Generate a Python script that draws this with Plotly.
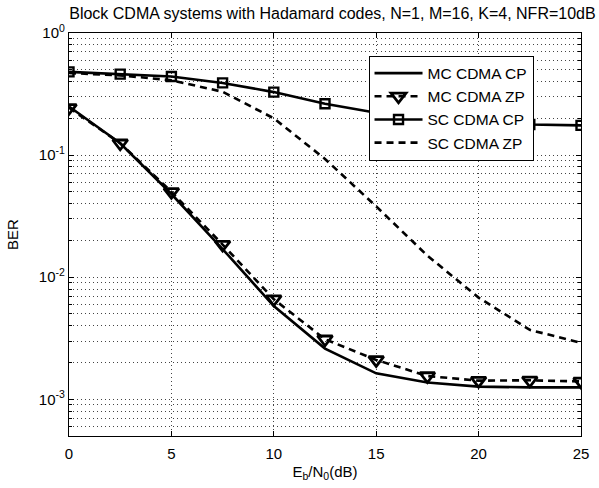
import plotly.graph_objects as go

ebn0 = [0, 2.5, 5, 7.5, 10, 12.5, 15, 17.5, 20, 22.5, 25]
mc_cp = [0.25, 0.125, 0.048, 0.017, 0.0058, 0.0026, 0.00163, 0.00137, 0.00127, 0.00125, 0.00125]
mc_zp = [0.244, 0.125, 0.05, 0.0185, 0.0066, 0.0031, 0.0021, 0.00155, 0.00142, 0.00143, 0.0014]
sc_cp = [0.48, 0.46, 0.44, 0.39, 0.328, 0.263, 0.222, 0.2, 0.186, 0.178, 0.175]
sc_zp = [0.47, 0.45, 0.41, 0.33, 0.2, 0.093, 0.038, 0.015, 0.0068, 0.0037, 0.0029]

ytick_vals = [1e-3, 1e-2, 1e-1, 1]
ytick_text = ["10<sup>-3</sup>", "10<sup>-2</sup>", "10<sup>-1</sup>", "10<sup>0</sup>"]
minor_vals = [m * 10.0 ** e for e in (-4, -3, -2, -1) for m in range(2, 10) if m * 10.0 ** e >= 5e-4]

FONT = "Liberation Sans, Arial, sans-serif"
GRID_DASH = "1px,3px"
GRID_COLOR = "#444444"

fig = go.Figure()
fig.add_trace(go.Scatter(x=ebn0, y=mc_cp, mode="lines", name="MC CDMA CP",
                         line=dict(color="black", width=2.6)))
fig.add_trace(go.Scatter(x=ebn0, y=mc_zp, mode="lines+markers", name="MC CDMA ZP",
                         line=dict(color="black", width=2.6, dash="7px,5px"),
                         marker=dict(symbol="triangle-down-open", size=13, color="black",
                                     line=dict(width=2.8, color="black"))))
fig.add_trace(go.Scatter(x=ebn0, y=sc_cp, mode="lines+markers", name="SC CDMA CP",
                         line=dict(color="black", width=2.6),
                         marker=dict(symbol="square-open", size=9, color="black",
                                     line=dict(width=2.4, color="black"))))
fig.add_trace(go.Scatter(x=ebn0, y=sc_zp, mode="lines", name="SC CDMA ZP",
                         line=dict(color="black", width=2.6, dash="7px,5px")))

fig.update_layout(
    width=599, height=488,
    margin=dict(l=69, r=10, t=33, b=46),
    paper_bgcolor="white", plot_bgcolor="white",
    font=dict(family=FONT, size=15, color="black"),
    title=dict(text="Block CDMA systems with Hadamard codes, N=1, M=16, K=4, NFR=10dB",
               x=0.555, xanchor="center", y=1 - 13 / 488, yanchor="middle",
               font=dict(size=16, family=FONT)),
    showlegend=True,
    legend=dict(x=0.585, y=0.944, xanchor="left", yanchor="top",
                bgcolor="white", bordercolor="black", borderwidth=1,
                font=dict(size=15.5, family=FONT), itemwidth=48,
                tracegroupgap=0),
    xaxis=dict(range=[0, 25], tickvals=[0, 5, 10, 15, 20, 25],
               ticks="inside", ticklen=5, tickcolor="black", ticklabelstandoff=4,
               showline=True, linecolor="black", linewidth=1.2, mirror="ticks",
               showgrid=True, gridcolor=GRID_COLOR, griddash=GRID_DASH, gridwidth=1,
               zeroline=False,
               title=dict(text="E<sub>b</sub>/N<sub>0</sub>(dB)", standoff=5,
                          font=dict(size=15, family=FONT))),
    yaxis=dict(type="log", range=[-3.30103, 0],
               tickvals=ytick_vals, ticktext=ytick_text,
               ticks="inside", ticklen=5, tickcolor="black",
               showline=True, linecolor="black", linewidth=1.2, mirror="ticks",
               showgrid=True, gridcolor=GRID_COLOR, griddash=GRID_DASH, gridwidth=1,
               zeroline=False,
               minor=dict(tickmode="array", tickvals=minor_vals, ticks="inside",
                          ticklen=3, tickcolor="black", showgrid=True,
                          gridcolor=GRID_COLOR, griddash=GRID_DASH, gridwidth=1),
               title=dict(text="BER", standoff=16, font=dict(size=15, family=FONT))),
)

fig.write_html("out.html")
